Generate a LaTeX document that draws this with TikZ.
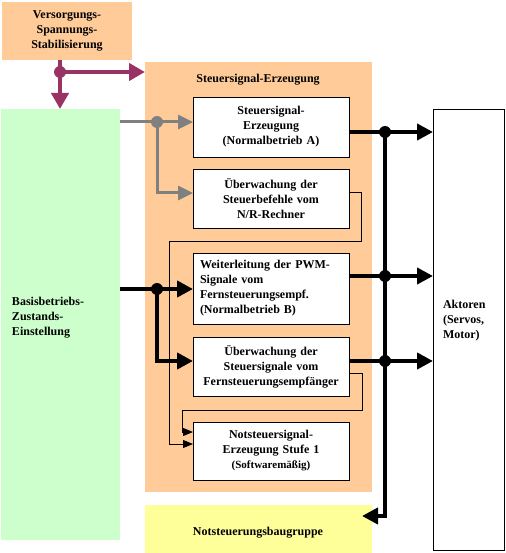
\documentclass[tikz,border=0pt]{standalone}
\usepackage{fontspec}
\setmainfont{Liberation Serif}
\usepackage{tikz}
\usetikzlibrary{arrows.meta}
\definecolor{peach}{HTML}{FFCC99}
\definecolor{mint}{HTML}{CCFFCC}
\definecolor{lemon}{HTML}{FFFF99}
\definecolor{purp}{HTML}{993366}
\definecolor{ashgray}{HTML}{808080}

\begin{document}
\begin{tikzpicture}[x=1pt, y=-1pt, font=\bfseries\fontsize{12}{15}\selectfont,
    area/.style={inner sep=0pt, outer sep=0pt},
    blk/.style={draw, fill=white, line width=0.8pt, minimum width=156pt, inner sep=2pt, outer sep=0pt, align=center, text width=150pt},
    purpline/.style={draw=purp, line width=4pt, -{Triangle[length=16pt,width=17pt]}},
    grayline/.style={draw=ashgray, line width=3pt, -{Triangle[length=15pt,width=14pt]}},
    busline/.style={draw=black, line width=4pt, -{Triangle[length=16pt,width=16pt]}},
    thinline/.style={draw=black, line width=1pt, -{Triangle[length=10pt,width=8pt]}}]
            \useasboundingbox (0,0) rectangle (505,553);
            % Flaechen
            \node[area, fill=peach, minimum width=130pt, minimum height=58pt, align=center] at (67, 31) (vs) {Versorgungs-\\Spannungs-\\Stabilisierung};
            \node[area, fill=mint, minimum width=119pt, minimum height=431pt] at (60.5, 324.5) (basis) {};
            \node[area, align=left, anchor=west] at (12, 318) (basistext) {Basisbetriebs-\\Zustands-\\Einstellung};
            \node[area, fill=peach, minimum width=227pt, minimum height=430pt] at (258.5, 277) (steuer) {};
            \node[area] at (258, 80) (steuertitel) {Steuersignal-Erzeugung};
            \node[area, fill=lemon, minimum width=227pt, minimum height=48pt] at (258.5, 529) (notbg) {};
            \node[area] at (258, 533) (nottext) {Notsteuerungsbaugruppe};
            \node[area, draw, line width=0.8pt, fill=white, minimum width=71pt, minimum height=441pt] at (468.5, 329.5) (akt) {};
            \node[area, align=left, anchor=west] at (443, 321) (akttext) {Aktoren\\(Servos,\\Motor)};
            % Bloecke
            \node[blk, minimum height=60pt] at (271, 127)   (b1) {Steuersignal-\\Erzeugung\\(Normalbetrieb A)};
            \node[blk, minimum height=59pt] at (271, 198.5) (b2) {Überwachung der\\Steuerbefehle vom\\N/R-Rechner};
            \node[blk, minimum height=71pt, align=left, text width=142pt] at (271, 288.5) (b3) {Weiterleitung der PWM-\\Signale vom\\Fernsteuerungsempf.\\(Normalbetrieb B)};
            \node[blk, minimum height=59pt] at (271, 366.5) (b4) {Überwachung der\\Steuersignale vom\\Fernsteuerungsempfänger};
            \node[blk, minimum height=58pt] at (271, 451)   (b5) {Notsteuersignal-\\Erzeugung Stufe 1\\{\fontsize{11}{15}\selectfont(Softwaremäßig)}};
            % Versorgung
            \coordinate (pdot) at (60, 72);
            \draw[draw=purp, line width=4pt] (vs.south -| pdot) -- (pdot);
            \draw[purpline] (pdot) -- (basis.north -| pdot);
            \draw[purpline] (pdot) -- (steuer.west |- pdot);
            \fill[purp] (pdot) circle (6pt);
            % Normalbetrieb A
            \coordinate (gdot) at (157, 122);
            \draw[grayline] (basis.east |- gdot) -- (b1.west |- gdot);
            \draw[grayline] (gdot) |- (b2.west |- 0,193);
            \fill[ashgray] (gdot) circle (6pt);
            % Normalbetrieb B
            \coordinate (bdot) at (157, 289);
            \draw[busline] (basis.east |- bdot) -- (b3.west |- bdot);
            \draw[busline] (bdot) |- (b4.west |- 0,361);
            \fill (bdot) circle (6pt);
            % Ueberwachung zur Notsteuerung
            \draw[thinline] (b2.east |- 0,193) -| (361, 241) -| (169, 444) -- (b5.west |- 0,444);
            \draw[thinline] (b4.east |- 0,373) -| (362, 410) -| (182, 432) -- (b5.west |- 0,432);
            % Aktoren-Bus
            \coordinate (r1) at (385, 132);
            \coordinate (r2) at (385, 276);
            \coordinate (r3) at (385, 361);
            \coordinate (nottip) at (362, 516);
            \draw[busline] (b1.east |- r1) -- (akt.west |- r1);
            \draw[busline] (b3.east |- r2) -- (akt.west |- r2);
            \draw[busline] (b4.east |- r3) -- (akt.west |- r3);
            \draw[busline] (r1) |- (nottip);
            \foreach \r in {r1, r2, r3}
                \fill (\r) circle (6pt);
        \end{tikzpicture}
\end{document}
